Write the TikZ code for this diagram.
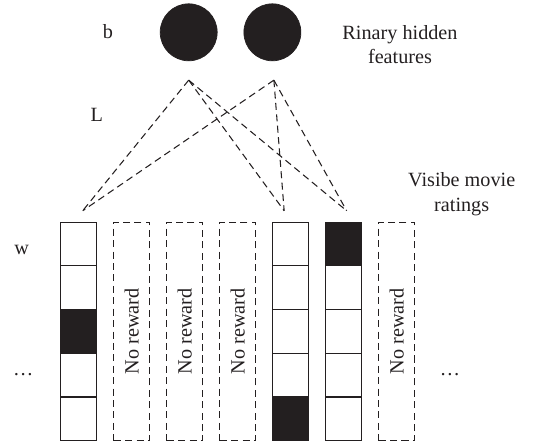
\documentclass[tikz,border=0pt]{standalone}
\usepackage{fontspec}
\setmainfont{Liberation Serif}
\usepackage{xcolor}
\definecolor{cInk}{HTML}{231F20}
\usepackage{tikz}
\usetikzlibrary{positioning}
\tikzset{
  unit-hidden/.style={circle,fill=cInk,draw=cInk,minimum size=1.14cm,inner sep=0pt},
  cell/.style={draw=cInk,line width=0.6pt,minimum width=0.72cm,
    minimum height=0.874cm,inner sep=0pt,outer sep=0pt},
  cell-on/.style={fill=cInk},
  col-empty/.style={draw=cInk,line width=0.6pt,dash pattern=on 4pt off 2.5pt,
    minimum width=0.72cm,minimum height=4.37cm,inner sep=0pt,outer sep=0pt,
    font=\fontsize{11.5}{14}\selectfont,text=cInk},
  link/.style={draw=cInk,line width=0.6pt,dash pattern=on 4pt off 2.5pt},
  lbl/.style={font=\fontsize{11.5}{14}\selectfont,text=cInk,inner sep=0pt},
}

\begin{document}
\begin{tikzpicture}[x=0.02cm,y=-0.02cm]
  \useasboundingbox (0,0) rectangle (555,444);
  % hidden layer
  \node[unit-hidden] (h1) at (188.7,32.3) {};
  \node[unit-hidden,right=0.52cm of h1] (h2) {};
  % rating columns
  \node[cell] (c1-1) at (78.7,244.1) {};
  \foreach \j/\k/\s in {2/1/,3/2/cell-on,4/3/,5/4/}
    \node[cell,\s,below=0pt of c1-\k] (c1-\j) {};
  \node[col-empty,right=0.34cm of c1-1.north east,anchor=north west] (skip2) {\rotatebox{90}{No reward}};
  \node[col-empty,right=0.34cm of skip2.north east,anchor=north west] (skip3) {\rotatebox{90}{No reward}};
  \node[col-empty,right=0.34cm of skip3.north east,anchor=north west] (skip4) {\rotatebox{90}{No reward}};
  \node[cell,right=0.34cm of skip4.north east,anchor=north west] (c5-1) {};
  \foreach \j/\k/\s in {2/1/,3/2/,4/3/,5/4/cell-on}
    \node[cell,\s,below=0pt of c5-\k] (c5-\j) {};
  \node[cell,cell-on,right=0.34cm of c5-1.north east,anchor=north west] (c6-1) {};
  \foreach \j/\k in {2/1,3/2,4/3,5/4}
    \node[cell,below=0pt of c6-\k] (c6-\j) {};
  \node[col-empty,right=0.34cm of c6-1.north east,anchor=north west] (skip7) {\rotatebox{90}{No reward}};
  % weights
  \coordinate (a1) at ([yshift=-0.38cm]h1.south);
  \coordinate (a2) at ([xshift=0.03cm,yshift=-0.38cm]h2.south);
  \coordinate (t1) at ([xshift=0.08cm,yshift=0.23cm]c1-1.north);
  \coordinate (t5) at ([xshift=-0.13cm,yshift=0.23cm]c5-1.north);
  \coordinate (t6) at ([xshift=0.06cm,yshift=0.23cm]c6-1.north);
  \foreach \a in {a1,a2}
    \foreach \t in {t1,t5,t6}
      \draw[link] (\a) -- (\t);
  % labels
  \node[lbl] (lb) at (108,32) {b};
  \node[lbl] (lL) at (96.7,115) {L};
  \node[lbl] (lw) at (21.7,250) {w};
  \node[lbl] (ldots1) at (23.3,375) {\dots};
  \node[lbl] (ldots2) at (450,375) {\dots};
  \node[lbl,align=center] (lhid) at (400,44.5) {Rinary hidden\\features};
  \node[lbl,align=center] (lvis) at (461.7,194) {Visibe movie\\ratings};
\end{tikzpicture}
\end{document}
